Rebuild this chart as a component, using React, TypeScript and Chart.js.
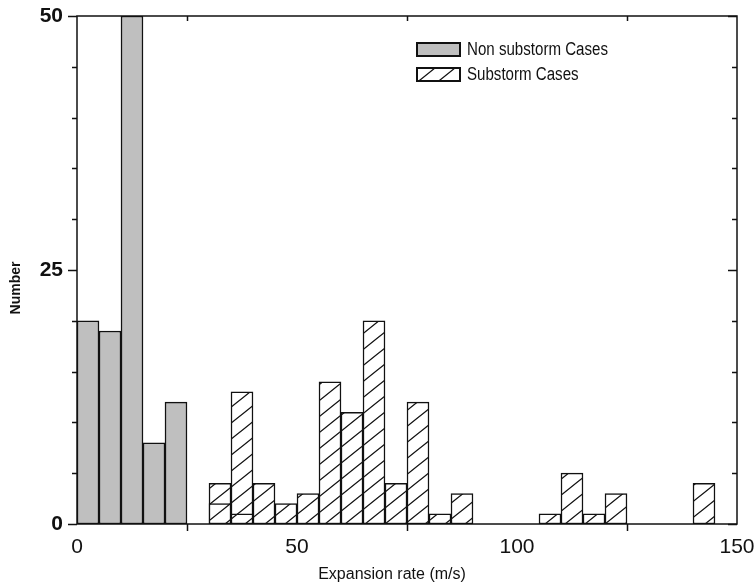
import React, { useEffect, useRef } from "react";
import { Chart, registerables } from "chart.js";

Chart.register(...registerables);

// Histogram bins (bin centers, m/s) and counts
const nonSubstormBins = [2.5, 7.5, 12.5, 17.5, 22.5];
const nonSubstormCounts = [20, 19, 50, 8, 12];
const substormBins = [32.5, 37.5, 42.5, 47.5, 52.5, 57.5, 62.5, 67.5, 72.5, 77.5, 82.5, 87.5, 107.5, 112.5, 117.5, 122.5, 142.5];
const substormCounts = [4, 13, 4, 2, 3, 14, 11, 20, 4, 12, 1, 3, 1, 5, 1, 3, 4];
const substormOverlayBins = [32.5, 37.5];
const substormOverlayCounts = [2, 1];

const xTickValues = [0, 50, 100, 150];
const yTickValues = [0, 25, 50];
const legendLabels = ["Non substorm Cases", "Substorm Cases"];
const xTitle = "Expansion rate (m/s)";
const yTitle = "Number";

const FONT = "'Liberation Sans', Arial, Helvetica, sans-serif";
const GRAY = "#bfbfbf";

function makeHatch(): CanvasPattern | string {
  const w = 20, h = 16;
  const c = document.createElement("canvas");
  c.width = w;
  c.height = h;
  const ctx = c.getContext("2d");
  if (!ctx) return "#fff";
  ctx.fillStyle = "#ffffff";
  ctx.fillRect(0, 0, w, h);
  ctx.strokeStyle = "#111";
  ctx.lineWidth = 1.3;
  ctx.beginPath();
  ctx.moveTo(-w, 2 * h);
  ctx.lineTo(2 * w, -h);
  ctx.moveTo(-2 * w, 2 * h);
  ctx.lineTo(w, -h);
  ctx.moveTo(0, 2 * h);
  ctx.lineTo(3 * w, -h);
  ctx.stroke();
  const p = ctx.createPattern(c, "repeat");
  return p || "#fff";
}

export default function App() {
  const ref = useRef<HTMLCanvasElement | null>(null);

  useEffect(() => {
    if (!ref.current) return;
    const hatch = makeHatch();

    const decorations = {
      id: "decorations",
      afterDraw(chart: any) {
        const ctx = chart.ctx as CanvasRenderingContext2D;
        const { left, right, top, bottom } = chart.chartArea;
        const xs = chart.scales.x;
        const ys = chart.scales.y;
        ctx.save();
        ctx.strokeStyle = "#111";
        ctx.lineWidth = 1.5;
        // frame
        ctx.strokeRect(left, top, right - left, bottom - top);
        // y ticks
        ctx.beginPath();
        for (let v = 0; v <= 50; v += 5) {
          const y = Math.round(ys.getPixelForValue(v)) + 0.5;
          const len = v % 25 === 0 ? 9 : 5;
          ctx.moveTo(left - len, y);
          ctx.lineTo(left, y);
          ctx.moveTo(right - len, y);
          ctx.lineTo(right, y);
        }
        // x minor ticks
        for (const v of [25, 75, 125]) {
          const x = Math.round(xs.getPixelForValue(v)) + 0.5;
          ctx.moveTo(x, bottom);
          ctx.lineTo(x, bottom + 7);
          ctx.moveTo(x, top);
          ctx.lineTo(x, top + 5);
        }
        ctx.stroke();

        // legend
        const bx = 417, bw = 43, bh = 13;
        const rows = [
          { y: 43, fill: GRAY as any, label: legendLabels[0] },
          { y: 68, fill: hatch as any, label: legendLabels[1] },
        ];
        ctx.font = "18px " + FONT;
        ctx.textBaseline = "middle";
        ctx.textAlign = "left";
        const wide = ctx.measureText(legendLabels[0]).width;
        const sx = Math.min(1, 141 / wide);
        for (const r of rows) {
          ctx.fillStyle = r.fill;
          ctx.fillRect(bx, r.y, bw, bh);
          ctx.lineWidth = 2;
          ctx.strokeRect(bx, r.y, bw, bh);
          ctx.fillStyle = "#111";
          ctx.save();
          ctx.translate(bx + 50, r.y + bh / 2 + 1);
          ctx.scale(sx, 1);
          ctx.fillText(r.label, 0, 0);
          ctx.restore();
        }

        // axis titles
        ctx.fillStyle = "#111";
        ctx.font = "16px " + FONT;
        ctx.textAlign = "center";
        ctx.textBaseline = "middle";
        ctx.fillText(xTitle, 392, 575);
        ctx.save();
        ctx.translate(16, 288);
        ctx.rotate(-Math.PI / 2);
        ctx.font = "bold 14px " + FONT;
        ctx.fillText(yTitle, 0, 0);
        ctx.restore();
        ctx.restore();
      },
    };

    const chart = new Chart(ref.current, {
      type: "bar",
      data: {
        datasets: [
          {
            label: "overlay",
            data: substormOverlayBins.map((x, i) => ({ x, y: substormOverlayCounts[i] })),
            backgroundColor: hatch as any,
            borderColor: "#111",
            borderWidth: 1.5,
            borderSkipped: false,
            order: 0,
          },
          {
            label: legendLabels[1],
            data: substormBins.map((x, i) => ({ x, y: substormCounts[i] })),
            backgroundColor: hatch as any,
            borderColor: "#111",
            borderWidth: 1.5,
            borderSkipped: false,
            order: 1,
          },
          {
            label: legendLabels[0],
            data: nonSubstormBins.map((x, i) => ({ x, y: nonSubstormCounts[i] })),
            backgroundColor: GRAY,
            borderColor: "#111",
            borderWidth: 1.5,
            borderSkipped: false,
            order: 2,
          },
        ],
      },
      options: {
        animation: false,
        responsive: true,
        maintainAspectRatio: false,
        datasets: { bar: { grouped: false, barPercentage: 1, categoryPercentage: 1 } } as any,
        layout: { padding: { top: 16, right: 19, left: 0, bottom: 0 } },
        plugins: { legend: { display: false }, tooltip: { enabled: false } },
        scales: {
          x: {
            type: "linear",
            min: 0,
            max: 150,
            offset: false,
            afterBuildTicks: (s: any) => {
              s.ticks = xTickValues.map((v) => ({ value: v }));
            },
            ticks: {
              font: { family: FONT, size: 21 },
              color: "#111",
              padding: 11,
              maxRotation: 0,
              autoSkip: false,
            },
            grid: { display: false, drawTicks: false, offset: false },
            border: { display: false },
            afterFit: (s: any) => {
              s.height = 61;
              s.paddingLeft = 0;
              s.paddingRight = 0;
            },
          },
          y: {
            type: "linear",
            min: 0,
            max: 50,
            afterBuildTicks: (s: any) => {
              s.ticks = yTickValues.map((v) => ({ value: v }));
            },
            ticks: {
              font: { family: FONT, size: 21, weight: "bold" },
              color: "#111",
              padding: 14,
            },
            grid: { display: false, drawTicks: false },
            border: { display: false },
            afterFit: (s: any) => {
              s.width = 77;
              s.paddingTop = 0;
              s.paddingBottom = 0;
            },
          },
        },
      },
      plugins: [decorations],
    });
    return () => chart.destroy();
  }, []);

  return (
    <div style={{ position: "fixed", left: 0, top: 0, width: 756, height: 585, background: "#fff" }}>
      <canvas ref={ref} />
    </div>
  );
}
